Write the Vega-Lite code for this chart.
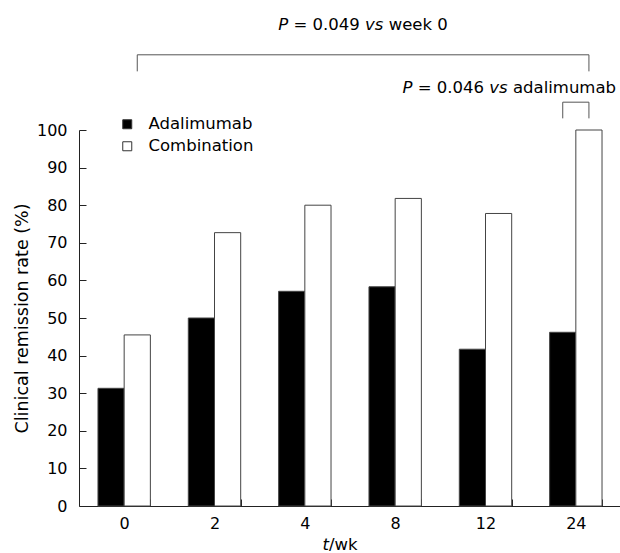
{
  "$schema": "https://vega.github.io/schema/vega-lite/v6.json",
  "autosize": {"type": "none"},
  "padding": {"left": 79, "top": 130, "right": 0, "bottom": 47},
  "width": 542,
  "height": 376,
  "background": "white",
  "config": {
    "view": {"stroke": null},
    "font": "DejaVu Sans",
    "text": {"font": "DejaVu Sans", "fontSize": 16.5, "color": "#000", "baseline": "middle", "align": "left"},
    "axis": {"labelFont": "DejaVu Sans", "labelColor": "#000", "titleColor": "#000", "domainColor": "#222", "ticks": false, "grid": true, "gridColor": "#222", "gridWidth": 1, "gridDash": [7, 2000], "gridOpacity": 1}
  },
  "datasets": {
    "bars": [
      {"week": "0", "group": "Adalimumab", "rate": 31.3},
      {"week": "0", "group": "Combination", "rate": 45.5},
      {"week": "2", "group": "Adalimumab", "rate": 50.0},
      {"week": "2", "group": "Combination", "rate": 72.7},
      {"week": "4", "group": "Adalimumab", "rate": 57.1},
      {"week": "4", "group": "Combination", "rate": 80.0},
      {"week": "8", "group": "Adalimumab", "rate": 58.3},
      {"week": "8", "group": "Combination", "rate": 81.8},
      {"week": "12", "group": "Adalimumab", "rate": 41.7},
      {"week": "12", "group": "Combination", "rate": 77.8},
      {"week": "24", "group": "Adalimumab", "rate": 46.2},
      {"week": "24", "group": "Combination", "rate": 100.0}
    ],
    "brackets": [
      {"b": "a", "ord": 1, "week": "0", "group": "Combination", "rate": 115.6},
      {"b": "a", "ord": 2, "week": "0", "group": "Combination", "rate": 120},
      {"b": "a", "ord": 3, "week": "24", "group": "Combination", "rate": 120},
      {"b": "a", "ord": 4, "week": "24", "group": "Combination", "rate": 115.6},
      {"b": "b", "ord": 1, "week": "24", "group": "Adalimumab", "rate": 103.1},
      {"b": "b", "ord": 2, "week": "24", "group": "Adalimumab", "rate": 107.4},
      {"b": "b", "ord": 3, "week": "24", "group": "Combination", "rate": 107.4},
      {"b": "b", "ord": 4, "week": "24", "group": "Combination", "rate": 103.1}
    ],
    "note1": [{"rate": 127.8}],
    "note2": [{"rate": 111.1}],
    "xtitle": [{"rate": -10.4}]
  },
  "encoding": {
    "x": {
      "field": "week", "type": "nominal",
      "scale": {"domain": ["0", "2", "4", "8", "12", "24"], "paddingInner": 0.42, "paddingOuter": 0.21},
      "axis": {"title": null, "labelAngle": 0, "labelFontSize": 16, "tickBand": "extent", "grid": true, "gridDash": [7, 369], "gridDashOffset": 7, "labelPadding": 9}
    },
    "y": {
      "field": "rate", "type": "quantitative",
      "scale": {"domain": [0, 100], "nice": false},
      "axis": {"title": "Clinical remission rate (%)", "titleFontSize": 17.5, "titleFontWeight": "normal", "titlePadding": 5, "values": [0,10,20,30,40,50,60,70,80,90,100], "labelFontSize": 16, "labelPadding": 12}
    }
  },
  "layer": [
    {
      "data": {"name": "bars"},
      "mark": {"type": "bar", "stroke": "#444", "strokeWidth": 1},
      "encoding": {
        "xOffset": {"field": "group", "type": "nominal", "scale": {"domain": ["Adalimumab", "Combination"]}},
        "color": {
          "field": "group", "type": "nominal",
          "scale": {"domain": ["Adalimumab", "Combination"], "range": ["#000000", "#ffffff"]},
          "legend": {"title": null, "orient": "none", "legendX": 40, "legendY": -14, "symbolType": "square", "symbolSize": 81, "symbolStrokeColor": "#333", "symbolStrokeWidth": 1, "labelFontSize": 16.5, "labelColor": "#000", "labelOffset": 13, "rowPadding": 5}
        }
      }
    },
    {
      "data": {"name": "brackets"},
      "mark": {"type": "line", "stroke": "#555", "strokeWidth": 1},
      "encoding": {
        "xOffset": {"field": "group", "type": "nominal"},
        "detail": {"field": "b"},
        "order": {"field": "ord", "type": "quantitative"}
      }
    },
    {"data": {"name": "note1"}, "mark": {"type": "text", "text": "P", "fontStyle": "italic", "dx": -71.7}, "encoding": {"x": null}},
    {"data": {"name": "note1"}, "mark": {"type": "text", "text": "= 0.049", "dx": -56.5}, "encoding": {"x": null}},
    {"data": {"name": "note1"}, "mark": {"type": "text", "text": "vs", "fontStyle": "italic", "dx": 15.05}, "encoding": {"x": null}},
    {"data": {"name": "note1"}, "mark": {"type": "text", "text": "week 0", "dx": 38.65}, "encoding": {"x": null}},
    {"data": {"name": "note2"}, "mark": {"type": "text", "text": "P", "fontStyle": "italic", "dx": 52.6}, "encoding": {"x": null}},
    {"data": {"name": "note2"}, "mark": {"type": "text", "text": "= 0.046", "dx": 67.8}, "encoding": {"x": null}},
    {"data": {"name": "note2"}, "mark": {"type": "text", "text": "vs", "fontStyle": "italic", "dx": 139.35}, "encoding": {"x": null}},
    {"data": {"name": "note2"}, "mark": {"type": "text", "text": "adalimumab", "dx": 162.95}, "encoding": {"x": null}},
    {"data": {"name": "xtitle"}, "mark": {"type": "text", "text": "t", "fontStyle": "italic", "dx": -27.5}, "encoding": {"x": null}},
    {"data": {"name": "xtitle"}, "mark": {"type": "text", "text": "/wk", "dx": -21}, "encoding": {"x": null}}
  ]
}
